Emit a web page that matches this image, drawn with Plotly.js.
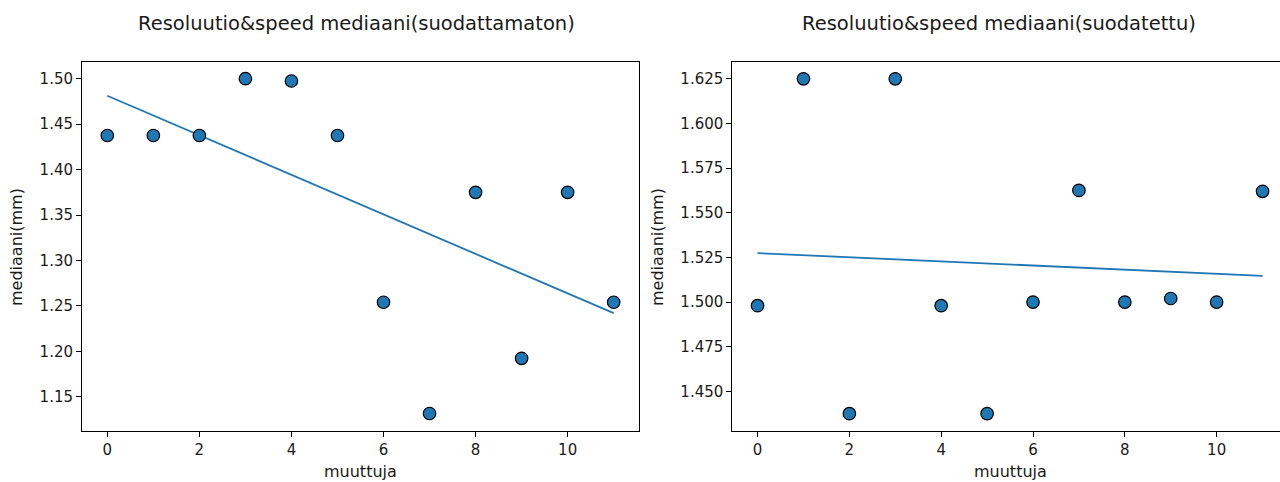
<!DOCTYPE html>
<html>
<head>
<meta charset="utf-8">
<script src="https://cdn.plot.ly/plotly-3.0.1.min.js"></script>
<style>html,body{margin:0;padding:0;background:#fff;}#chart{width:1280px;height:482px;}</style>
</head>
<body>
<div id="chart"></div>
<script>
const xValues = [0, 1, 2, 3, 4, 5, 6, 7, 8, 9, 10, 11];
const unfilteredMedian = [1.4375, 1.4375, 1.4375, 1.5, 1.4975, 1.4375, 1.254, 1.1316, 1.375, 1.1923, 1.375, 1.254];
const filteredMedian = [1.498, 1.625, 1.4375, 1.625, 1.498, 1.4375, 1.5, 1.5625, 1.5, 1.502, 1.5, 1.562];
const trendX = [0, 11];
const unfilteredTrend = [1.4813, 1.242];
const filteredTrend = [1.5274, 1.5147];
const titleLeft = "Resoluutio&speed mediaani(suodattamaton)";
const titleRight = "Resoluutio&speed mediaani(suodatettu)";
const xLabel = "muuttuja";
const yLabel = "mediaani(mm)";

const blue = "#1f77b4";
const tickFont = {family: "DejaVu Sans", size: 15, color: "#1a1a1a"};
const labelFont = {family: "DejaVu Sans", size: 16, color: "#1a1a1a"};
const titleFont = {family: "DejaVu Sans", size: 19.5, color: "#1a1a1a"};

function scatter(y, xa, ya) {
  return {x: xValues, y: y, xaxis: xa, yaxis: ya, type: "scatter", mode: "markers",
    marker: {color: blue, size: 12.5, line: {color: "#000", width: 1.2}}, hoverinfo: "skip", cliponaxis: false};
}
function trend(y, xa, ya) {
  return {x: trendX, y: y, xaxis: xa, yaxis: ya, type: "scatter", mode: "lines",
    line: {color: blue, width: 1.8}, hoverinfo: "skip"};
}

const data = [
  trend(unfilteredTrend, "x", "y"),
  scatter(unfilteredMedian, "x", "y"),
  trend(filteredTrend, "x2", "y2"),
  scatter(filteredMedian, "x2", "y2")
];

const axBase = {showgrid: false, zeroline: false, showline: true, linecolor: "#000", linewidth: 1,
  ticks: "outside", ticklen: 5, tickwidth: 1, tickcolor: "#000", tickfont: tickFont};

const yDom = [(482 - 430.5) / 482, (482 - 62) / 482];

const layout = {
  width: 1280, height: 482,
  margin: {l: 0, r: 0, t: 0, b: 0},
  paper_bgcolor: "#fff", plot_bgcolor: "#fff",
  showlegend: false,
  xaxis: Object.assign({}, axBase, {domain: [82 / 1280, 639 / 1280], range: [-0.55, 11.55], dtick: 2, tick0: 0, mirror: true, anchor: "y"}),
  yaxis: Object.assign({}, axBase, {domain: yDom, range: [1.1129, 1.5184], dtick: 0.05, tick0: 1.15, tickformat: ".2f", mirror: true, anchor: "x"}),
  xaxis2: Object.assign({}, axBase, {domain: [732.3 / 1280, 1], range: [-0.55, 11.38], dtick: 2, tick0: 0, mirror: true, anchor: "y2"}),
  yaxis2: Object.assign({}, axBase, {domain: yDom, range: [1.4281, 1.6344], dtick: 0.025, tick0: 1.45, tickformat: ".3f", mirror: false, anchor: "x2"}),
  annotations: [
    {text: titleLeft, xref: "paper", yref: "paper", x: 356 / 1280, y: 1 - 23 / 482, showarrow: false, xanchor: "center", yanchor: "middle", font: titleFont},
    {text: titleRight, xref: "paper", yref: "paper", x: 999 / 1280, y: 1 - 23 / 482, showarrow: false, xanchor: "center", yanchor: "middle", font: titleFont},
    {text: xLabel, xref: "paper", yref: "paper", x: 360 / 1280, y: 1 - 471 / 482, showarrow: false, xanchor: "center", yanchor: "middle", font: labelFont},
    {text: xLabel, xref: "paper", yref: "paper", x: 1010 / 1280, y: 1 - 471 / 482, showarrow: false, xanchor: "center", yanchor: "middle", font: labelFont},
    {text: yLabel, xref: "paper", yref: "paper", x: 17 / 1280, y: 1 - 247 / 482, showarrow: false, textangle: -90, xanchor: "center", yanchor: "middle", font: labelFont},
    {text: yLabel, xref: "paper", yref: "paper", x: 658 / 1280, y: 1 - 247 / 482, showarrow: false, textangle: -90, xanchor: "center", yanchor: "middle", font: labelFont}
  ]
};

Plotly.newPlot("chart", data, layout, {staticPlot: true, displayModeBar: false});
</script>
</body>
</html>
